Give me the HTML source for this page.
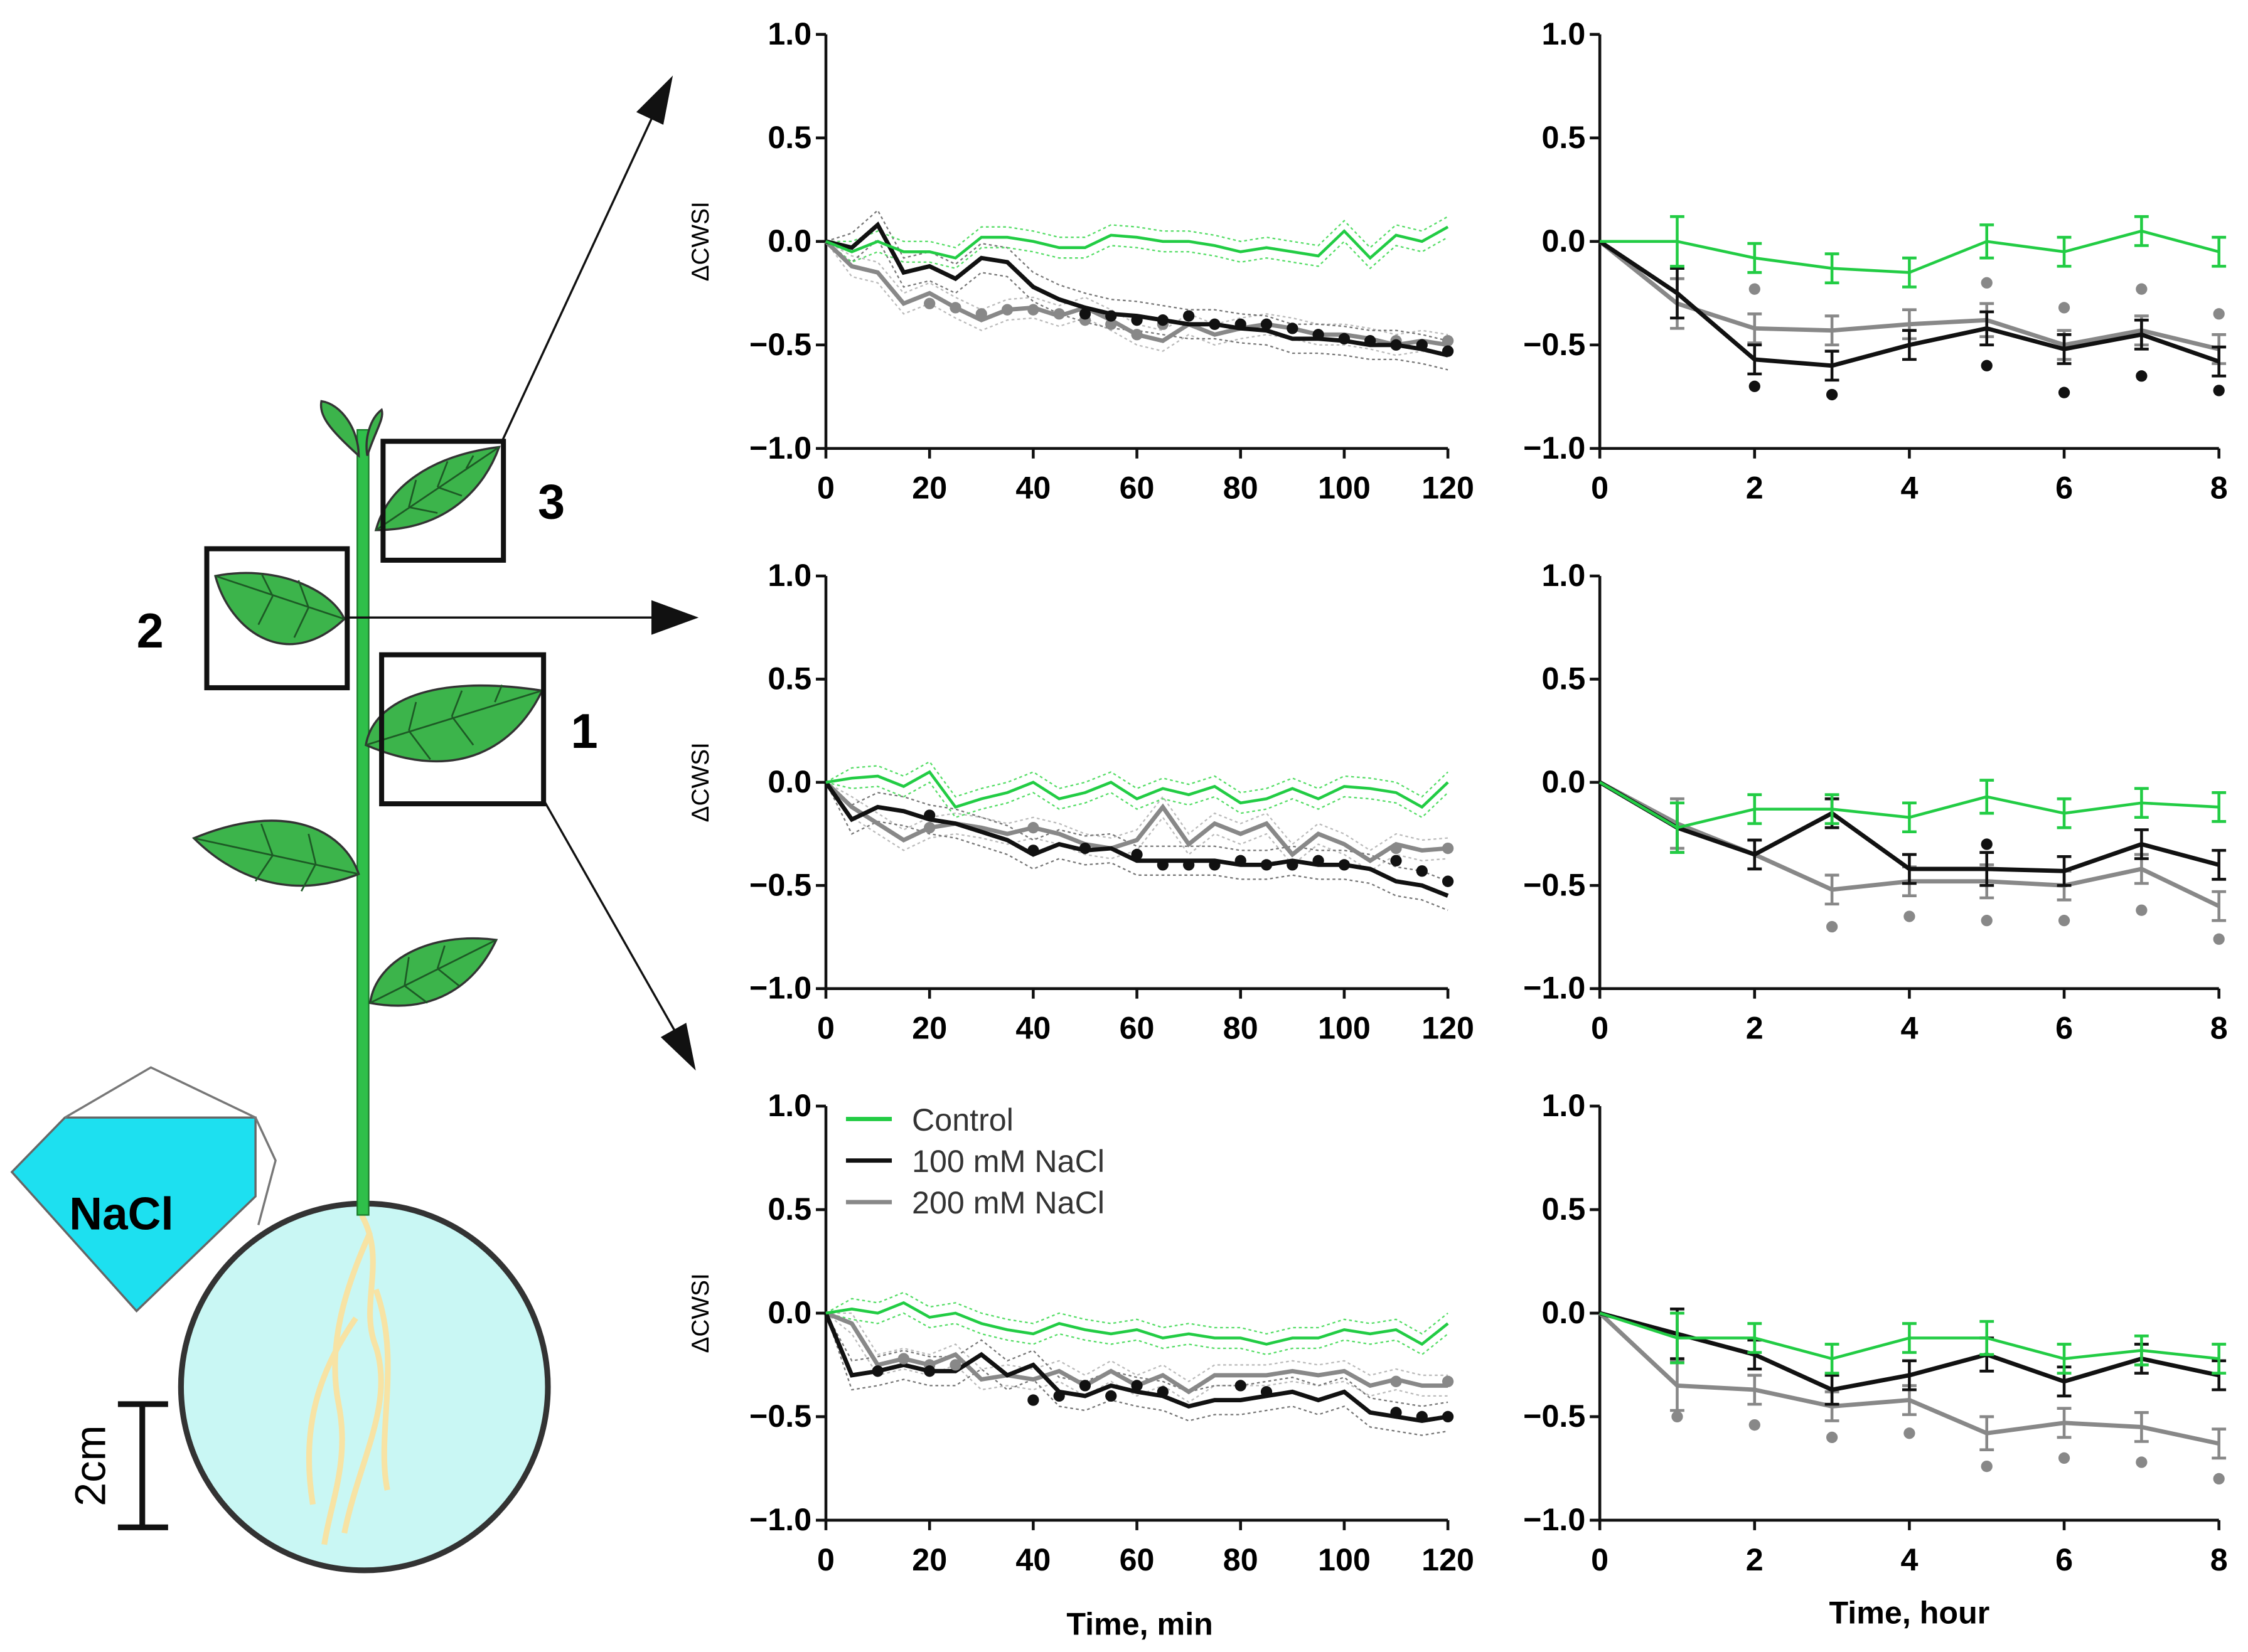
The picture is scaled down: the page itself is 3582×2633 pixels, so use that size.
<!DOCTYPE html>
<html><head><meta charset="utf-8"><style>
html,body{margin:0;padding:0;background:#fff;}
svg{display:block;}
text{font-family:"Liberation Sans",Arial,sans-serif;}
</style></head><body>
<svg id="fig" width="3582" height="2633" viewBox="0 0 1568 1153" xmlns="http://www.w3.org/2000/svg">
<g id="plant">
  <circle cx="254" cy="968" r="128" fill="#c9f7f4" stroke="#333" stroke-width="4"/>
  <g fill="none" stroke="#f7e3a4" stroke-width="4">
    <path d="M252 848 C270 880 250 910 262 940 C275 980 250 1020 240 1070"/>
    <path d="M258 860 C240 900 228 940 236 980 C244 1020 230 1050 226 1078"/>
    <path d="M262 900 C280 950 262 1000 270 1040"/>
    <path d="M248 920 C220 960 210 1000 218 1050"/>
  </g>
  <rect x="249" y="300" width="8" height="548" fill="#2fbf4a" stroke="#1a7a2a" stroke-width="1"/>
  <g fill="#3cb44b" stroke="#333" stroke-width="1.5">
    <path d="M250 318 C230 300 222 290 224 280 C238 282 250 300 250 318Z"/>
    <path d="M256 318 C262 300 268 292 266 286 C258 292 254 306 256 318Z"/>
    <path d="M262 370 C270 340 300 318 348 312 C338 340 312 370 262 370Z"/>
    <path d="M240 432 C230 410 190 394 150 402 C160 440 200 470 240 432Z"/>
    <path d="M255 520 C260 490 300 470 378 482 C360 520 320 548 255 520Z"/>
    <path d="M250 610 C240 580 200 558 135 585 C160 610 200 630 250 610Z"/>
    <path d="M258 700 C262 670 300 650 346 656 C330 690 300 708 258 700Z"/>
  </g>
  <g fill="none" stroke="#1d5a25" stroke-width="1.2">
    <path d="M262 370 L348 312 M285 354 L290 335 M305 340 L312 322 M325 327 L330 318 M285 354 L305 358 M305 340 L322 346"/>
    <path d="M240 432 L150 402 M215 424 L208 405 M190 416 L182 400 M215 424 L205 445 M190 416 L180 436"/>
    <path d="M255 520 L378 482 M285 510 L290 490 M315 500 L322 482 M345 490 L350 478 M285 510 L300 530 M315 500 L330 520"/>
    <path d="M250 610 L135 585 M220 603 L215 582 M190 597 L182 575 M220 603 L210 622 M190 597 L178 615"/>
    <path d="M258 700 L346 656 M282 688 L285 668 M305 676 L310 660 M282 688 L298 700 M305 676 L320 688"/>
  </g>
  <g fill="none" stroke="#111" stroke-width="3.5">
    <rect x="267" y="308" width="84" height="83"/>
    <rect x="144" y="383" width="98" height="97"/>
    <rect x="266" y="457" width="113" height="104"/>
  </g>
  <text x="375" y="362" font-size="34" font-weight="bold">3</text>
  <text x="95" y="452" font-size="34" font-weight="bold">2</text>
  <text x="398" y="522" font-size="34" font-weight="bold">1</text>
  <g stroke="#111" stroke-width="1.5" fill="#111">
    <line x1="350" y1="308" x2="458" y2="75"/>
    <polygon points="468,55 445,78 462,86"/>
    <line x1="242" y1="431" x2="460" y2="431"/>
    <polygon points="485,431 455,420 455,442"/>
    <line x1="380" y1="560" x2="472" y2="722"/>
    <polygon points="484,745 462,724 478,715"/>
  </g>
  <g>
    <polygon points="8,818 45,780 178,780 178,835 95,915" fill="#1de0f0" stroke="#666" stroke-width="1.5"/>
    <polyline points="45,780 105,745 178,780 192,810 180,855" fill="none" stroke="#777" stroke-width="1.5"/>
    <text x="48" y="858" font-size="32" font-weight="bold">NaCl</text>
  </g>
  <g stroke="#111" stroke-width="4">
    <line x1="99" y1="980" x2="99" y2="1066"/>
    <line x1="82" y1="980" x2="117" y2="980"/>
    <line x1="82" y1="1066" x2="117" y2="1066"/>
  </g>
  <text transform="translate(73,1023) rotate(-90)" text-anchor="middle" font-size="30">2cm</text>
</g>
<g id="charts"></g>
</svg>
<script>
const minutes=[0,5,10,15,20,25,30,35,40,45,50,55,60,65,70,75,80,85,90,95,100,105,110,115,120];
const hours=[0,1,2,3,4,5,6,7,8];
const yTicks=[1.0,0.5,0.0,-0.5,-1.0];
const yTickLabels=["1.0","0.5","0.0","\u22120.5","\u22121.0"];
const minTicks=[0,20,40,60,80,100,120];
const hourTicks=[0,2,4,6,8];
const seriesNames=["Control","100 mM NaCl","200 mM NaCl"];
const envSpread=[0.05,0.07,0.05];
const r1Control=[0,-0.05,0,-0.05,-0.05,-0.08,0.02,0.02,0,-0.03,-0.03,0.03,0.02,0,0,-0.02,-0.05,-0.03,-0.05,-0.07,0.05,-0.08,0.03,0,0.07];
const r1Na100=[0,-0.03,0.08,-0.15,-0.12,-0.18,-0.08,-0.1,-0.22,-0.28,-0.32,-0.35,-0.36,-0.38,-0.4,-0.4,-0.42,-0.43,-0.47,-0.47,-0.48,-0.5,-0.5,-0.52,-0.55];
const r1Na200=[0,-0.12,-0.15,-0.3,-0.25,-0.32,-0.38,-0.33,-0.32,-0.36,-0.32,-0.38,-0.45,-0.48,-0.4,-0.45,-0.42,-0.4,-0.42,-0.45,-0.45,-0.47,-0.5,-0.48,-0.5];
const r2Control=[0,0.02,0.03,-0.02,0.05,-0.12,-0.08,-0.05,0,-0.08,-0.05,0,-0.08,-0.03,-0.06,-0.02,-0.1,-0.08,-0.03,-0.08,-0.02,-0.03,-0.05,-0.12,0];
const r2Na100=[0,-0.18,-0.12,-0.14,-0.18,-0.2,-0.24,-0.28,-0.35,-0.3,-0.33,-0.32,-0.38,-0.38,-0.38,-0.38,-0.4,-0.4,-0.38,-0.4,-0.4,-0.42,-0.48,-0.5,-0.55];
const r2Na200=[0,-0.12,-0.2,-0.28,-0.22,-0.2,-0.22,-0.25,-0.22,-0.25,-0.3,-0.32,-0.28,-0.12,-0.3,-0.2,-0.25,-0.2,-0.35,-0.25,-0.3,-0.38,-0.3,-0.33,-0.32];
const r3Control=[0,0.02,0,0.05,-0.02,0,-0.05,-0.08,-0.1,-0.05,-0.08,-0.1,-0.08,-0.12,-0.1,-0.12,-0.12,-0.15,-0.12,-0.12,-0.08,-0.1,-0.08,-0.15,-0.05];
const r3Na100=[0,-0.3,-0.28,-0.25,-0.28,-0.28,-0.2,-0.3,-0.25,-0.38,-0.4,-0.35,-0.38,-0.4,-0.45,-0.42,-0.42,-0.4,-0.38,-0.42,-0.38,-0.48,-0.5,-0.52,-0.5];
const r3Na200=[0,-0.05,-0.25,-0.22,-0.25,-0.2,-0.32,-0.3,-0.32,-0.28,-0.35,-0.28,-0.35,-0.3,-0.38,-0.3,-0.3,-0.3,-0.28,-0.3,-0.28,-0.35,-0.32,-0.35,-0.35];
const r1DotsMinBlack=[[50,-0.35],[55,-0.36],[60,-0.38],[65,-0.38],[70,-0.36],[75,-0.4],[80,-0.4],[85,-0.4],[90,-0.42],[95,-0.45],[100,-0.47],[105,-0.48],[110,-0.5],[115,-0.5],[120,-0.53]];
const r1DotsMinGray=[[20,-0.3],[25,-0.32],[30,-0.35],[35,-0.33],[40,-0.33],[45,-0.35],[50,-0.38],[55,-0.4],[60,-0.45],[65,-0.4],[110,-0.48],[120,-0.48]];
const r2DotsMinBlack=[[20,-0.16],[40,-0.33],[50,-0.32],[60,-0.35],[65,-0.4],[70,-0.4],[75,-0.4],[80,-0.38],[85,-0.4],[90,-0.4],[95,-0.38],[100,-0.4],[110,-0.38],[115,-0.43],[120,-0.48]];
const r2DotsMinGray=[[20,-0.22],[40,-0.22],[110,-0.32],[120,-0.32]];
const r3DotsMinBlack=[[10,-0.28],[20,-0.28],[40,-0.42],[45,-0.4],[50,-0.35],[55,-0.4],[60,-0.35],[65,-0.38],[80,-0.35],[85,-0.38],[110,-0.48],[115,-0.5],[120,-0.5]];
const r3DotsMinGray=[[15,-0.22],[20,-0.25],[25,-0.25],[110,-0.33],[120,-0.33]];
const h1Control=[0,0,-0.08,-0.13,-0.15,0,-0.05,0.05,-0.05];
const h1Na100=[0,-0.25,-0.57,-0.6,-0.5,-0.42,-0.52,-0.45,-0.58];
const h1Na200=[0,-0.3,-0.42,-0.43,-0.4,-0.38,-0.5,-0.43,-0.52];
const h2Control=[0,-0.22,-0.13,-0.13,-0.17,-0.07,-0.15,-0.1,-0.12];
const h2Na100=[0,-0.22,-0.35,-0.15,-0.42,-0.42,-0.43,-0.3,-0.4];
const h2Na200=[0,-0.2,-0.35,-0.52,-0.48,-0.48,-0.5,-0.42,-0.6];
const h3Control=[0,-0.12,-0.12,-0.22,-0.12,-0.12,-0.22,-0.18,-0.22];
const h3Na100=[0,-0.1,-0.2,-0.37,-0.3,-0.2,-0.33,-0.22,-0.3];
const h3Na200=[0,-0.35,-0.37,-0.45,-0.42,-0.58,-0.53,-0.55,-0.63];
const hErr=[0,0.12,0.07,0.07,0.07,0.08,0.07,0.07,0.07];
const h1DotsBlack=[[2,-0.7],[3,-0.74],[5,-0.6],[6,-0.73],[7,-0.65],[8,-0.72]];
const h1DotsGray=[[2,-0.23],[5,-0.2],[6,-0.32],[7,-0.23],[8,-0.35]];
const h2DotsBlack=[[5,-0.3]];
const h2DotsGray=[[3,-0.7],[4,-0.65],[5,-0.67],[6,-0.67],[7,-0.62],[8,-0.76]];
const h3DotsBlack=[];
const h3DotsGray=[[1,-0.5],[2,-0.54],[3,-0.6],[4,-0.58],[5,-0.74],[6,-0.7],[7,-0.72],[8,-0.8]];

const NS="http://www.w3.org/2000/svg";
const root=document.getElementById('charts');
const COLORS=["#22cc44","#111111","#888888"];
const ENVCOL=["#55dd66","#777777","#bbbbbb"];
function mk(tag,attrs,parent){const e=document.createElementNS(NS,tag);for(const k in attrs)e.setAttribute(k,attrs[k]);parent.appendChild(e);return e;}
const rowsY=[[24,313],[402,690],[772,1061]];
function panel(id,x0,x1,yTop,yBot,xmax,xTicks,xs,series,err,dotsB,dotsG){
  const g=mk('g',{},root);
  
  
  const sx=v=>x0+(x1-x0)*v/xmax;
  const sy=v=>yBot-(yBot-yTop)*(v+1)/2;
  mk('line',{x1:x0,y1:yTop,x2:x0,y2:yBot,stroke:'#111','stroke-width':2},g);
  mk('line',{x1:x0,y1:yBot,x2:x1,y2:yBot,stroke:'#111','stroke-width':2},g);
  yTicks.forEach((t,i)=>{
    mk('line',{x1:x0-7,y1:sy(t),x2:x0,y2:sy(t),stroke:'#111','stroke-width':2},g);
    const tx=mk('text',{x:x0-10,y:sy(t)+7,'text-anchor':'end','font-size':22,'font-weight':'bold'},g);
    tx.textContent=yTickLabels[i];
  });
  xTicks.forEach(t=>{
    mk('line',{x1:sx(t),y1:yBot,x2:sx(t),y2:yBot+7,stroke:'#111','stroke-width':2},g);
    const tx=mk('text',{x:sx(t),y:yBot+35,'text-anchor':'middle','font-size':22,'font-weight':'bold'},g);
    tx.textContent=t;
  });
  if(!err){[2,1,0].forEach(si=>{[1,-1].forEach(s=>{
    mk('polyline',{points:series[si].map((v,i)=>sx(xs[i])+','+sy(v+s*envSpread[si]*(i?1:0))).join(' '),fill:'none',stroke:ENVCOL[si],'stroke-width':1,'stroke-dasharray':'2,2'},g);});});}
  [2,1,0].forEach(si=>{
    const vals=series[si];
    const pl=mk('polyline',{points:vals.map((v,i)=>sx(xs[i])+','+sy(v)).join(' '),fill:'none',stroke:COLORS[si],'stroke-width':si===0?2:3},g);
    
    
    if(err){vals.forEach((v,i)=>{if(!err[i])return;const X=sx(xs[i]);
      mk('line',{x1:X,y1:sy(v-err[i]),x2:X,y2:sy(v+err[i]),stroke:COLORS[si],'stroke-width':2},g);
      mk('line',{x1:X-5,y1:sy(v+err[i]),x2:X+5,y2:sy(v+err[i]),stroke:COLORS[si],'stroke-width':2},g);
      mk('line',{x1:X-5,y1:sy(v-err[i]),x2:X+5,y2:sy(v-err[i]),stroke:COLORS[si],'stroke-width':2},g);});}
  });
  dotsG.forEach(d=>mk('circle',{cx:sx(d[0]),cy:sy(d[1]),r:4,fill:'#888'},g));
  dotsB.forEach(d=>mk('circle',{cx:sx(d[0]),cy:sy(d[1]),r:4,fill:'#111'},g));
  if(!err){const yl=mk('text',{transform:`translate(${x0-82},${(yTop+yBot)/2}) rotate(-90)`,'text-anchor':'middle','font-size':17},g);
    
    
    yl.textContent='\u0394CWSI';}
  return g;
}
const minS=[[r1Control,r1Na100,r1Na200],[r2Control,r2Na100,r2Na200],[r3Control,r3Na100,r3Na200]];
const minD=[[r1DotsMinBlack,r1DotsMinGray],[r2DotsMinBlack,r2DotsMinGray],[r3DotsMinBlack,r3DotsMinGray]];
const hS=[[h1Control,h1Na100,h1Na200],[h2Control,h2Na100,h2Na200],[h3Control,h3Na100,h3Na200]];
const hD=[[h1DotsBlack,h1DotsGray],[h2DotsBlack,h2DotsGray],[h3DotsBlack,h3DotsGray]];
for(let r=0;r<3;r++){
  panel('minutes-chart-leaf-'+(3-r),576,1010,rowsY[r][0],rowsY[r][1],120,minTicks,minutes,minS[r],null,minD[r][0],minD[r][1]);
  panel('hours-chart-leaf-'+(3-r),1116,1548,rowsY[r][0],rowsY[r][1],8,hourTicks,hours,hS[r],hErr,hD[r][0],hD[r][1]);
}
const lg=mk('g',{},root);


seriesNames.forEach((n,i)=>{
  const y=781+i*29;
  mk('line',{x1:590,y1:y,x2:622,y2:y,stroke:COLORS[i],'stroke-width':3},lg);
  const t=mk('text',{x:636,y:y+8,'font-size':22,fill:'#333'},lg);
  
  
  t.textContent=n;
});
const xt1=mk('text',{x:795,y:1141,'text-anchor':'middle','font-size':22,'font-weight':'bold'},root);


xt1.textContent='Time, min';
const xt2=mk('text',{x:1332,y:1133,'text-anchor':'middle','font-size':22,'font-weight':'bold'},root);


xt2.textContent='Time, hour';
</script>
</body></html>
